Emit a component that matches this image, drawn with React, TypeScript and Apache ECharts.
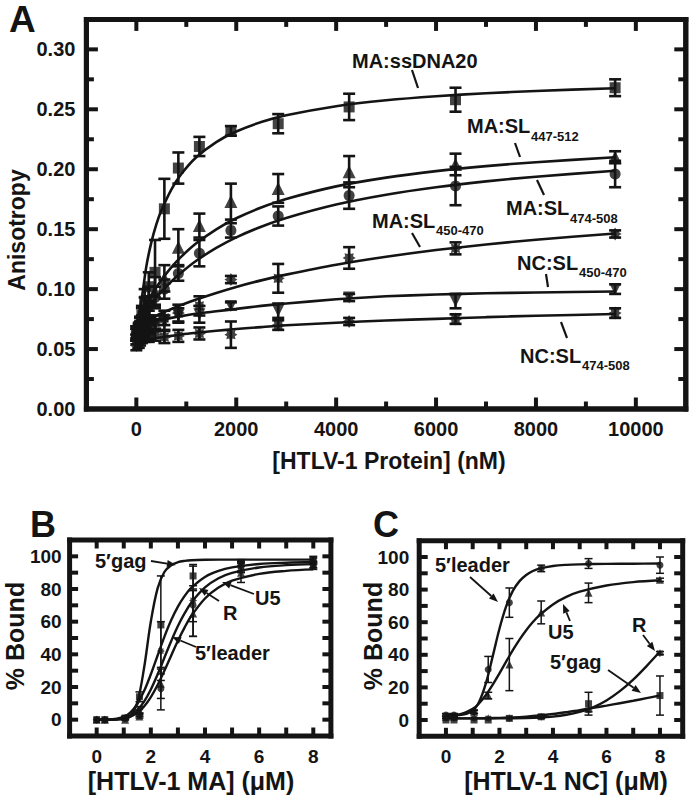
import React, { useEffect, useRef } from "react";
import * as echarts from "echarts";

const INK = "#141414";
const FONT = '"Liberation Sans", Arial, sans-serif';

// ---------------- Panel A : anisotropy ----------------
const A_X_LABELS = [0, 2000, 4000, 6000, 8000, 10000];
const A_X_MINOR = [1000, 3000, 5000, 7000, 9000];
const A_Y_LABELS = [0, 0.05, 0.1, 0.15, 0.2, 0.25, 0.3];
const A_Y_MINOR = [0.025, 0.075, 0.125, 0.175, 0.225, 0.275];

const A_CONC = [0, 49, 74, 111, 166, 249, 374, 561, 841, 1262, 1893, 2840, 4260, 6390, 9585];
const A_SSDNA20 = [0.063, 0.066, 0.07, 0.078, 0.09, 0.102, 0.114, 0.167, 0.201, 0.219, 0.232, 0.238, 0.252, 0.258, 0.268];
const A_SSDNA20_ERR = [0.006, 0.005, 0.006, 0.008, 0.01, 0.012, 0.027, 0.025, 0.013, 0.008, 0.004, 0.008, 0.011, 0.01, 0.007];
const A_SL447 = [0.064, 0.067, 0.071, 0.077, 0.085, 0.092, 0.098, 0.109, 0.135, 0.153, 0.173, 0.184, 0.198, 0.204, 0.21];
const A_SL447_ERR = [0.005, 0.005, 0.006, 0.007, 0.008, 0.01, 0.012, 0.011, 0.015, 0.01, 0.015, 0.012, 0.013, 0.009, 0.005];
const A_SL474 = [0.062, 0.065, 0.068, 0.072, 0.078, 0.086, 0.093, 0.1, 0.113, 0.13, 0.149, 0.161, 0.178, 0.186, 0.196];
const A_SL474_ERR = [0.005, 0.005, 0.005, 0.006, 0.007, 0.008, 0.009, 0.008, 0.006, 0.011, 0.006, 0.008, 0.011, 0.016, 0.011];
const A_SL450 = [0.062, 0.064, 0.066, 0.066, 0.068, 0.07, 0.072, 0.076, 0.08, 0.086, 0.108, 0.109, 0.126, 0.134, 0.146];
const A_SL450_ERR = [0.005, 0.005, 0.005, 0.005, 0.005, 0.006, 0.006, 0.006, 0.007, 0.008, 0.003, 0.012, 0.009, 0.005, 0.003];
const A_NC450 = [0.058, 0.061, 0.063, 0.065, 0.066, 0.068, 0.07, 0.072, 0.078, 0.079, 0.086, 0.082, 0.093, 0.09, 0.1];
const A_NC450_ERR = [0.004, 0.004, 0.005, 0.005, 0.005, 0.005, 0.005, 0.006, 0.006, 0.007, 0.003, 0.006, 0.003, 0.006, 0.004];
const A_NC474 = [0.053, 0.055, 0.057, 0.059, 0.06, 0.061, 0.062, 0.06, 0.061, 0.063, 0.062, 0.07, 0.073, 0.075, 0.08];
const A_NC474_ERR = [0.004, 0.004, 0.004, 0.004, 0.004, 0.005, 0.005, 0.005, 0.005, 0.005, 0.011, 0.004, 0.003, 0.004, 0.004];

const A_FIT_X = [0, 100, 200, 300, 400, 500, 700, 900, 1200, 1600, 2000, 2500, 3000, 4000, 5000, 6000, 7000, 8000, 9585];
const A_FIT_SSDNA20 = [0.07, 0.09, 0.119, 0.139, 0.154, 0.1655, 0.1831, 0.196, 0.21, 0.2227, 0.2315, 0.2394, 0.245, 0.2526, 0.2575, 0.2609, 0.2634, 0.2653, 0.2676];
const A_FIT_SL447 = [0.07, 0.0792, 0.0873, 0.0947, 0.1014, 0.1075, 0.1181, 0.1271, 0.1382, 0.1499, 0.1591, 0.1681, 0.1752, 0.1857, 0.193, 0.1984, 0.2026, 0.2059, 0.21];
const A_FIT_SL474 = [0.07, 0.0764, 0.0824, 0.0879, 0.093, 0.0978, 0.1064, 0.1139, 0.1237, 0.1344, 0.1432, 0.1521, 0.1594, 0.1706, 0.1788, 0.185, 0.1899, 0.1938, 0.1988];
const A_FIT_SL450 = [0.07, 0.0721, 0.0742, 0.0761, 0.078, 0.0799, 0.0834, 0.0867, 0.0913, 0.0968, 0.1018, 0.1073, 0.1121, 0.1204, 0.127, 0.1326, 0.1372, 0.1412, 0.1464];
const A_FIT_NC450 = [0.07, 0.071, 0.072, 0.0728, 0.0735, 0.0745, 0.076, 0.0775, 0.0795, 0.0815, 0.0835, 0.086, 0.088, 0.0915, 0.094, 0.0955, 0.0965, 0.0972, 0.098];
const A_FIT_NC474 = [0.056, 0.0568, 0.0576, 0.0584, 0.059, 0.0598, 0.061, 0.0622, 0.0636, 0.0653, 0.0667, 0.0683, 0.0698, 0.072, 0.0738, 0.0752, 0.0766, 0.0778, 0.0792];

// ---------------- Panels B and C : % bound ----------------
const BC_X_LABELS = [0, 2, 4, 6, 8];
const BC_X_TICKS = [0, 1, 2, 3, 4, 5, 6, 7, 8];
const BC_Y_LABELS = [0, 20, 40, 60, 80, 100];
const BC_Y_TICKS = [0, 10, 20, 30, 40, 50, 60, 70, 80, 90, 100];

const BC_CONC = [0, 0.3, 1.05, 1.58, 2.37, 3.56, 5.33, 8.0];

const B_GAG = [0, 0, 1, 14, 58, 88, 96, 98];
const B_GAG_ERR = [0, 0, 1, 3, 30, 6, 2, 2];
const B_R = [0, 0, 1, 6, 42, 73, 94, 97];
const B_R_ERR = [0, 0, 1, 2, 18, 22, 3, 2];
const B_U5 = [0, 0, 0, 2, 22, 65, 90, 95];
const B_U5_ERR = [0, 0, 0, 1, 9, 14, 6, 2];
const B_LEADER = [0, 0, 1, 3, 19, 70, 93, 94];
const B_LEADER_ERR = [0, 0, 0, 1, 13, 10, 3, 2];

const BC_FIT_X = [0, 0.5, 1, 1.25, 1.5, 1.75, 2, 2.25, 2.5, 2.75, 3, 3.25, 3.5, 4, 4.5, 5, 6, 7, 8];
const B_FIT_GAG = [0, 0, 0.3, 2.2, 10.4, 31.6, 60.1, 80.4, 90.4, 94.6, 96.4, 97.2, 97.6, 97.9, 98, 98, 98, 98, 98];
const B_FIT_R = [0, 0.1, 1.7, 4.5, 9.6, 17.5, 27.8, 39.3, 50.7, 60.8, 69.2, 75.8, 80.8, 87.4, 91.1, 93.2, 95.3, 96.1, 96.5];
const B_FIT_LEADER = [0, 0, 1.0, 2.7, 5.9, 11.1, 18.5, 27.7, 37.9, 48, 57.3, 65.2, 71.8, 81.0, 86.6, 89.9, 93.2, 94.6, 95.2];
const B_FIT_U5 = [0, 0, 0.7, 1.9, 4.2, 8.1, 13.8, 21.2, 29.9, 39.2, 48.3, 56.5, 63.6, 74.2, 80.9, 85.1, 89.3, 91.1, 92.0];

const C_LEADER = [3, 3, 5, 31, 72, 93, 96, 95];
const C_LEADER_ERR = [1, 1, 1, 8, 9, 2, 3, 5];
const C_U5 = [2, 2, 5, 15, 34, 66, 78, 86];
const C_U5_ERR = [1, 1, 1, 2, 16, 7, 6, 1];
const C_R = [1, 1, 1, 1, 1, 2, 6, 41];
const C_R_ERR = [0, 0, 0, 0, 0, 0, 1, 1];
const C_GAG = [0, 0, 0, 0, 1, 2, 10, 15];
const C_GAG_ERR = [0, 0, 0, 0, 0, 1, 7, 12];

const C_FIT_LEADER = [3, 3.1, 5.7, 11.5, 22.9, 39.2, 56.0, 69.7, 79.2, 85.2, 89.0, 91.4, 92.9, 94.5, 95.2, 95.5, 95.8, 95.9, 96.0];
const C_FIT_U5 = [3, 3.4, 6.8, 10.4, 15.5, 21.7, 28.6, 35.8, 42.8, 49.3, 55.1, 60.1, 64.3, 70.9, 75.5, 78.7, 82.5, 84.6, 85.7];
const C_FIT_X2 = [0, 1, 2, 2.5, 3, 3.5, 4, 4.5, 5, 5.5, 6, 6.5, 7, 7.5, 8];
const C_FIT_R = [1, 1, 1.02, 1.07, 1.2, 1.5, 2.1, 3.2, 5.0, 7.8, 12.0, 17.7, 24.8, 33.1, 42];
const C_FIT_GAG = [1, 1, 1.3, 1.6, 2.1, 2.8, 3.7, 4.8, 6.0, 7.4, 8.8, 10.3, 11.8, 13.4, 15];

// ---------------- symbols ----------------
const STAR =
  "path://M10,0L6,2.49L7.07,7.07L2.49,6L0,10L-2.49,6L-7.07,7.07L-6,2.49L-10,0L-6,-2.49L-7.07,-7.07L-2.49,-6L0,-10L2.49,-6L7.07,-7.07L6,-2.49Z";
const DOWN_TRI = "path://M0,0L10,0L5,9Z";

const zip = (xs: number[], ys: number[]) => xs.map((x, i) => [x, ys[i]]);

function txt(text: string, x: number, y: number, size: number, align = "left", rot = 0): any {
  return {
    type: "text",
    x,
    y,
    rotation: rot,
    silent: true,
    z: 50,
    style: {
      text,
      font: `bold ${size}px ${FONT}`,
      fill: INK,
      align,
      verticalAlign: "middle",
      textAlign: align,
      textVerticalAlign: "middle",
    },
  };
}

function seg(x1: number, y1: number, x2: number, y2: number, w = 2): any {
  return {
    type: "line",
    silent: true,
    z: 50,
    shape: { x1, y1, x2, y2 },
    style: { stroke: INK, lineWidth: w },
  };
}

function arrow(x1: number, y1: number, x2: number, y2: number, head = 9, half = 3.5): any[] {
  const dx = x2 - x1;
  const dy = y2 - y1;
  const L = Math.hypot(dx, dy);
  const ux = dx / L;
  const uy = dy / L;
  const bx = x2 - ux * head;
  const by = y2 - uy * head;
  return [
    seg(x1, y1, bx, by, 1.8),
    {
      type: "polygon",
      silent: true,
      z: 50,
      shape: { points: [[x2, y2], [bx - uy * half, by + ux * half], [bx + uy * half, by - ux * half]] },
      style: { fill: INK },
    },
  ];
}

type Panel = {
  xi: number;
  yi: number;
  xr: number[];
  yr: number[];
  frame: number;
  xTicks: number[][];
  yTicks: number[][];
  lens: number[];
};

// panel boxes (layout only)
const BOX_A = { left: 86.4, top: 19.4, width: 599.4, height: 389.6 };
const BOX_B = { left: 69.6, top: 540, width: 261.3, height: 196 };
const BOX_C = { left: 419.2, top: 540.7, width: 263.5, height: 195.6 };

export default function App() {
  const ref = useRef<HTMLDivElement>(null);

  useEffect(() => {
    if (!ref.current) return;
    const chart = echarts.init(ref.current, null, { renderer: "svg" });

    const xAxes: any[] = [];
    const yAxes: any[] = [];
    const labelStyle = (size: number, margin: number, fmt: (v: number) => string) => ({
      show: true,
      color: INK,
      fontFamily: FONT,
      fontWeight: "bold",
      fontSize: size,
      margin,
      formatter: fmt,
    });
    const axis = (list: any[], grid: number, min: number, max: number, position: string, labels: number[], label: any) => {
      list.push({
        type: "value",
        gridIndex: grid,
        min,
        max,
        position,
        axisLine: { show: false, onZero: false },
        splitLine: { show: false },
        axisTick: { show: false },
        axisLabel: { ...label, customValues: labels },
      });
      return list.length - 1;
    };
    const str = (v: number) => String(v);

    const ax = axis(xAxes, 0, -1000, 11000, "bottom", A_X_LABELS, labelStyle(20, 10, str));
    const ay = axis(yAxes, 0, 0, 0.325, "left", A_Y_LABELS, labelStyle(20, 11, (v: number) => v.toFixed(2)));
    const bx = axis(xAxes, 1, -1, 8.65, "bottom", BC_X_LABELS, labelStyle(19, 11, str));
    const by = axis(yAxes, 1, -10, 110, "left", BC_Y_LABELS, labelStyle(19, 8, str));
    const cx = axis(xAxes, 2, -1, 8.85, "bottom", BC_X_LABELS, labelStyle(19, 11, str));
    const cy = axis(yAxes, 2, -10, 110, "left", BC_Y_LABELS, labelStyle(19, 10, str));

    const errSeries = (xi: number, yi: number, xs: number[], ys: number[], es: number[], cap: number, lw: number) => ({
      type: "custom",
      xAxisIndex: xi,
      yAxisIndex: yi,
      silent: true,
      clip: false,
      z: 3,
      data: xs.map((x, i) => [x, ys[i], es[i]]),
      encode: { x: 0, y: 1 },
      renderItem: (_p: any, api: any) => {
        const x = api.value(0);
        const y = api.value(1);
        const e = api.value(2);
        if (!e) return { type: "group", children: [] };
        const t = api.coord([x, y + e]);
        const b = api.coord([x, y - e]);
        const h = cap / 2;
        const st = { stroke: INK, lineWidth: lw };
        return {
          type: "group",
          children: [
            { type: "line", shape: { x1: t[0], y1: t[1], x2: b[0], y2: b[1] }, style: st },
            { type: "line", shape: { x1: t[0] - h, y1: t[1], x2: t[0] + h, y2: t[1] }, style: st },
            { type: "line", shape: { x1: b[0] - h, y1: b[1], x2: b[0] + h, y2: b[1] }, style: st },
          ],
        };
      },
    });
    const pts = (xi: number, yi: number, xs: number[], ys: number[], symbol: string, size: number) => ({
      type: "scatter",
      xAxisIndex: xi,
      yAxisIndex: yi,
      symbol,
      symbolSize: size,
      itemStyle: { color: INK },
      silent: true,
      clip: false,
      z: 4,
      data: zip(xs, ys),
    });
    const fit = (xi: number, yi: number, xs: number[], ys: number[], w: number, smooth: number) => ({
      type: "line",
      xAxisIndex: xi,
      yAxisIndex: yi,
      symbol: "none",
      showSymbol: false,
      smooth,
      clip: false,
      silent: true,
      z: 2,
      lineStyle: { color: INK, width: w },
      data: zip(xs, ys),
    });
    // frame + inside ticks of a panel, drawn through the panel's own axes
    const frameSeries = (p: Panel) => ({
      type: "custom",
      xAxisIndex: p.xi,
      yAxisIndex: p.yi,
      silent: true,
      clip: false,
      z: 10,
      data: [[p.xr[0], p.yr[0]]],
      encode: { x: 0, y: 1 },
      renderItem: (_p: any, api: any) => {
        const tl = api.coord([p.xr[0], p.yr[1]]);
        const br = api.coord([p.xr[1], p.yr[0]]);
        const w = p.frame;
        const tw = 4;
        const W = br[0] - tl[0];
        const H = br[1] - tl[1];
        const bar = (x: number, y: number, width: number, height: number) => ({
          type: "rect",
          shape: { x, y, width, height },
          style: { fill: INK },
        });
        const children: any[] = [
          bar(tl[0] - w / 2, tl[1] - w / 2, W + w, w),
          bar(tl[0] - w / 2, br[1] - w / 2, W + w, w),
          bar(tl[0] - w / 2, tl[1] - w / 2, w, H + w),
          bar(br[0] - w / 2, tl[1] - w / 2, w, H + w),
        ];
        p.xTicks.forEach((vals, k) => {
          const len = p.lens[k] + w / 2;
          vals.forEach((v) => {
            const q = api.coord([v, p.yr[0]]);
            children.push(bar(q[0] - tw / 2, br[1] - len, tw, len));
            children.push(bar(q[0] - tw / 2, tl[1], tw, len));
          });
        });
        p.yTicks.forEach((vals, k) => {
          const len = p.lens[k] + w / 2;
          vals.forEach((v) => {
            const q = api.coord([p.xr[0], v]);
            children.push(bar(tl[0], q[1] - tw / 2, len, tw));
            children.push(bar(br[0] - len, q[1] - tw / 2, len, tw));
          });
        });
        return { type: "group", children };
      },
    });

    const series: any[] = [];
    const addA = (ys: number[], es: number[], fitYs: number[], symbol: string, size: number) => {
      series.push(fit(ax, ay, A_FIT_X, fitYs, 2.6, 0.25));
      series.push(errSeries(ax, ay, A_CONC, ys, es, 12, 2.6));
      series.push(pts(ax, ay, A_CONC, ys, symbol, size));
    };
    addA(A_SSDNA20, A_SSDNA20_ERR, A_FIT_SSDNA20, "rect", 11);
    addA(A_SL447, A_SL447_ERR, A_FIT_SL447, "triangle", 13);
    addA(A_SL474, A_SL474_ERR, A_FIT_SL474, "circle", 11);
    addA(A_SL450, A_SL450_ERR, A_FIT_SL450, STAR, 13);
    addA(A_NC450, A_NC450_ERR, A_FIT_NC450, DOWN_TRI, 12);
    addA(A_NC474, A_NC474_ERR, A_FIT_NC474, STAR, 13);

    const addBC = (xi: number, yi: number, ys: number[], es: number[], fx: number[], fy: number[], symbol: string, size: number) => {
      series.push(fit(xi, yi, fx, fy, 2.4, 0.35));
      series.push(errSeries(xi, yi, BC_CONC, ys, es, 8, 1.5));
      series.push(pts(xi, yi, BC_CONC, ys, symbol, size));
    };
    addBC(bx, by, B_GAG, B_GAG_ERR, BC_FIT_X, B_FIT_GAG, "rect", 7);
    addBC(bx, by, B_R, B_R_ERR, BC_FIT_X, B_FIT_R, STAR, 8);
    addBC(bx, by, B_LEADER, B_LEADER_ERR, BC_FIT_X, B_FIT_LEADER, "circle", 7);
    addBC(bx, by, B_U5, B_U5_ERR, BC_FIT_X, B_FIT_U5, "triangle", 8);

    addBC(cx, cy, C_LEADER, C_LEADER_ERR, BC_FIT_X, C_FIT_LEADER, "circle", 7);
    addBC(cx, cy, C_U5, C_U5_ERR, BC_FIT_X, C_FIT_U5, "triangle", 8);
    addBC(cx, cy, C_R, C_R_ERR, C_FIT_X2, C_FIT_R, STAR, 8);
    addBC(cx, cy, C_GAG, C_GAG_ERR, C_FIT_X2, C_FIT_GAG, "rect", 7);

    const panels: Panel[] = [
      { xi: ax, yi: ay, xr: [-1000, 11000], yr: [0, 0.325], frame: 5, xTicks: [A_X_LABELS, A_X_MINOR], yTicks: [A_Y_LABELS, A_Y_MINOR], lens: [9, 5] },
      { xi: bx, yi: by, xr: [-1, 8.65], yr: [-10, 110], frame: 5, xTicks: [BC_X_TICKS], yTicks: [BC_Y_TICKS], lens: [6] },
      { xi: cx, yi: cy, xr: [-1, 8.85], yr: [-10, 110], frame: 5, xTicks: [BC_X_TICKS], yTicks: [BC_Y_TICKS], lens: [6] },
    ];
    panels.forEach((p) => series.push(frameSeries(p)));

    const labels: any[] = [
      // outline of panel A's box (layout backup for the frame drawn by the series)
      {
        type: "rect",
        silent: true,
        z: 100,
        shape: { x: BOX_A.left, y: BOX_A.top, width: BOX_A.width, height: BOX_A.height },
        style: { fill: "transparent", stroke: INK, lineWidth: 5 },
      },
      // panel letters
      txt("A", 9, 19, 37),
      txt("B", 30, 524, 36),
      txt("C", 373, 524, 36),
      // panel A titles
      txt("Anisotropy", 17, 230, 23, "center", Math.PI / 2),
      txt("[HTLV-1 Protein] (nM)", 389, 461, 23, "center"),
      // panel A series labels
      txt("MA:ssDNA20", 352, 61, 20),
      seg(412, 70, 418, 88, 2.2),
      txt("MA:SL", 467, 126, 20),
      txt("447-512", 531, 136, 13),
      seg(515, 143, 520, 157, 2.2),
      txt("MA:SL", 506, 208, 20),
      txt("474-508", 570, 218, 13),
      seg(537, 180, 544, 195, 2.2),
      txt("MA:SL", 372, 221, 20),
      txt("450-470", 436, 230, 13),
      seg(412, 233, 420, 247, 2.2),
      txt("NC:SL", 517, 263, 20),
      txt("450-470", 579, 272, 13),
      seg(546, 274, 548, 287, 2.2),
      txt("NC:SL", 520, 356, 20),
      txt("474-508", 582, 365, 13),
      seg(561, 322, 567, 338, 2.2),
      // panel B / C titles
      txt("% Bound", 15, 636, 25, "center", Math.PI / 2),
      txt("[HTLV-1 MA] (μM)", 191, 781, 25, "center"),
      txt("% Bound", 373, 636, 25, "center", Math.PI / 2),
      txt("[HTLV-1 NC] (μM)", 566, 781, 25, "center"),
      // panel B labels
      txt("5′gag", 95, 561, 20),
      ...arrow(151, 561, 176, 565),
      txt("U5", 255, 598, 20),
      ...arrow(254, 594, 222, 582),
      txt("R", 223, 613, 20),
      ...arrow(219, 601, 199, 588),
      txt("5′leader", 195, 653, 20),
      ...arrow(196, 647, 172, 637),
      // panel C labels
      txt("5′leader", 435, 565, 20),
      ...arrow(470, 577, 498, 602),
      txt("U5", 548, 632, 20),
      ...arrow(570, 621, 563, 604),
      txt("R", 632, 625, 20),
      ...arrow(643, 635, 655, 651),
      txt("5′gag", 550, 662, 20),
      ...arrow(608, 670, 641, 693),
    ];

    chart.setOption({
      animation: false,
      backgroundColor: "#ffffff",
      grid: [
        { ...BOX_A, containLabel: false },
        { ...BOX_B, containLabel: false },
        { ...BOX_C, containLabel: false },
      ],
      xAxis: xAxes,
      yAxis: yAxes,
      series,
      graphic: { elements: labels },
    });

    return () => chart.dispose();
  }, []);

  return (
    <div
      ref={ref}
      style={{ position: "absolute", left: 0, top: 0, width: 693, height: 796, background: "#fff" }}
    />
  );
}
